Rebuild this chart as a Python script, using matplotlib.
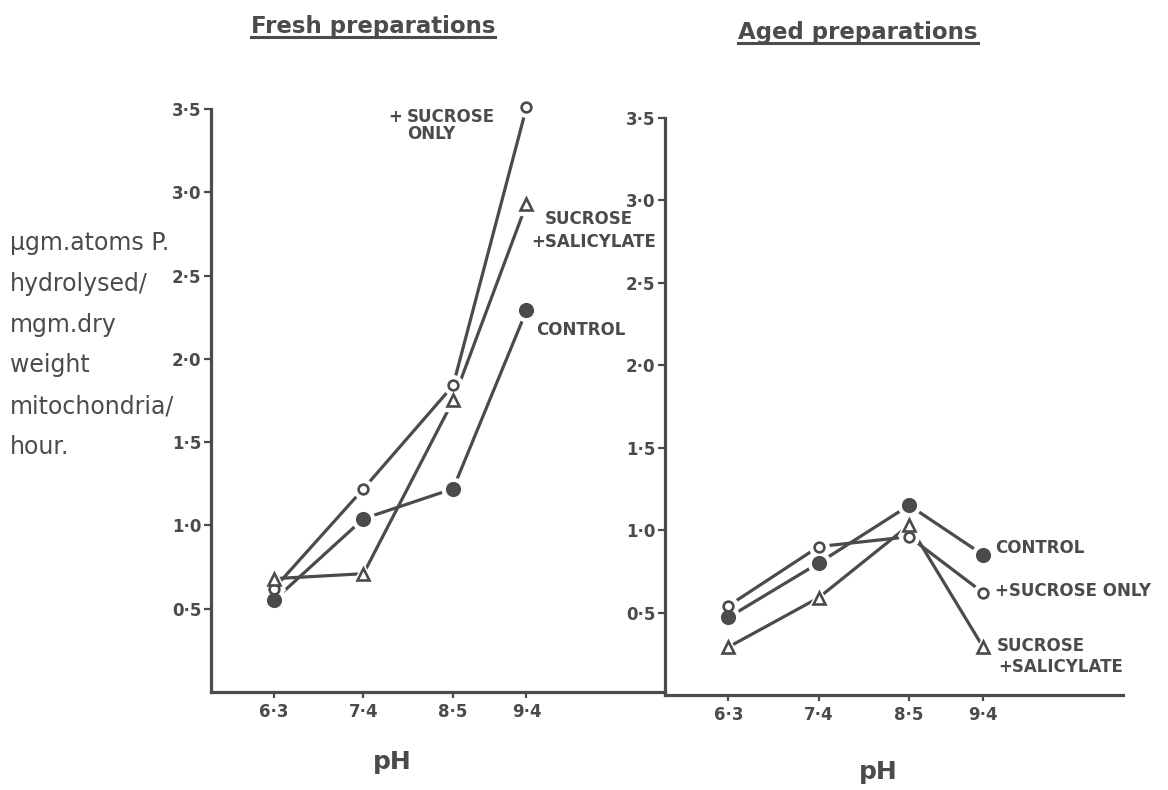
import matplotlib.pyplot as plt
import numpy as np
from matplotlib.lines import Line2D

# pH values and tick text
ph = [6.3, 7.4, 8.5, 9.4]
ph_labels = ['6·3', '7·4', '8·5', '9·4']
y_ticks = [0.5, 1.0, 1.5, 2.0, 2.5, 3.0, 3.5]
y_labels = ['0·5', '1·0', '1·5', '2·0', '2·5', '3·0', '3·5']

# fresh preparations
fresh_control = [0.55, 1.04, 1.22, 2.29]
fresh_sucrose = [0.62, 1.22, 1.84, 3.51]
fresh_salicylate = [0.68, 0.71, 1.75, 2.93]

# aged preparations
aged_control = [0.47, 0.80, 1.15, 0.85]
aged_sucrose = [0.54, 0.90, 0.96, 0.62]
aged_salicylate = [0.29, 0.59, 1.03, 0.29]

ink = '#4b4b4b'
plt.rcParams['font.family'] = ['DejaVu Sans']

fig = plt.figure(figsize=(11.68, 7.9), dpi=100, facecolor='white')
ax1 = fig.add_axes([0.1807, 0.1241, 0.3887, 0.738])
ax2 = fig.add_axes([0.5693, 0.1203, 0.3921, 0.7304])


def draw(ax, control, sucrose, salicylate):
    series = [(control, 'o', 9, ink),
              (sucrose, 'o', 7, 'white'),
              (salicylate, '^', 9, 'white')]
    for vals, m, ms, fc in series:
        ax.plot(ph, vals, color=ink, lw=2.3, zorder=2, clip_on=False)
        ax.plot(ph, vals, ls='none', marker=m, ms=ms + 7, mfc='white',
                mec='white', zorder=3, clip_on=False)
        ax.plot(ph, vals, ls='none', marker=m, ms=ms, mfc=fc, mec=ink,
                mew=1.9, zorder=4, clip_on=False)

    ax.set_xlim(5.53, 11.1)
    ax.set_ylim(0, 3.5)
    ax.spines['top'].set_visible(False)
    ax.spines['right'].set_visible(False)
    for s in ['left', 'bottom']:
        ax.spines[s].set_linewidth(2.3)
        ax.spines[s].set_color(ink)
    ax.set_xticks(ph)
    ax.set_xticklabels(ph_labels)
    ax.set_yticks(y_ticks)
    ax.set_yticklabels(y_labels)
    ax.tick_params(axis='y', direction='out', length=5, width=1.6, color=ink,
                   labelcolor=ink, labelsize=12, pad=2)
    ax.tick_params(axis='x', direction='out', length=4, width=1.6, color=ink,
                   labelcolor=ink, labelsize=12, pad=4)
    for lab in ax.get_xticklabels() + ax.get_yticklabels():
        lab.set_fontweight('bold')
    ax.set_facecolor('none')


draw(ax1, fresh_control, fresh_sucrose, fresh_salicylate)
draw(ax2, aged_control, aged_sucrose, aged_salicylate)

ax1.set_xlabel('pH', fontsize=18, fontweight='bold', color=ink)
ax1.xaxis.set_label_coords(0.40, -0.1)
ax2.set_xlabel('pH', fontsize=18, fontweight='bold', color=ink)
ax2.xaxis.set_label_coords(0.465, -0.113)

lab = dict(fontsize=12, fontweight='bold', color=ink, va='center', ha='left')
# fresh panel labels
ax1.text(7.70, 3.45, '+', **lab)
ax1.text(7.93, 3.40, 'SUCROSE\nONLY', linespacing=0.95, **lab)
ax1.text(9.63, 2.84, 'SUCROSE', **lab)
ax1.text(9.46, 2.70, '+SALICYLATE', **lab)
ax1.text(9.52, 2.17, 'CONTROL', **lab)
# aged panel labels
ax2.text(9.55, 0.89, 'CONTROL', **lab)
ax2.text(9.55, 0.63, '+SUCROSE ONLY', **lab)
ax2.text(9.56, 0.30, 'SUCROSE', **lab)
ax2.text(9.58, 0.17, '+SALICYLATE', **lab)

# y label
fig.text(10 / 1168, 1 - 345 / 790,
         'µgm.atoms P.\nhydrolysed/\nmgm.dry\nweight\nmitochondria/\nhour.',
         fontsize=17, color=ink, ha='left', va='center', linespacing=1.88)

# titles, underlined
t1 = fig.text(373 / 1168, 1 - 27 / 790, 'Fresh preparations', fontsize=16.5,
              fontweight='bold', color=ink, ha='center', va='center')
t2 = fig.text(858 / 1168, 1 - 33 / 790, 'Aged preparations', fontsize=16.5,
              fontweight='bold', color=ink, ha='center', va='center')
fig.canvas.draw()
r = fig.canvas.get_renderer()
for t in [t1, t2]:
    bb = t.get_window_extent(r)
    yb = bb.y0 + 2
    fig.add_artist(Line2D([bb.x0 / fig.bbox.width, bb.x1 / fig.bbox.width],
                          [yb / fig.bbox.height, yb / fig.bbox.height],
                          color=ink, lw=2.2, transform=fig.transFigure))

fig.savefig('out.png', dpi=100, facecolor='white')
